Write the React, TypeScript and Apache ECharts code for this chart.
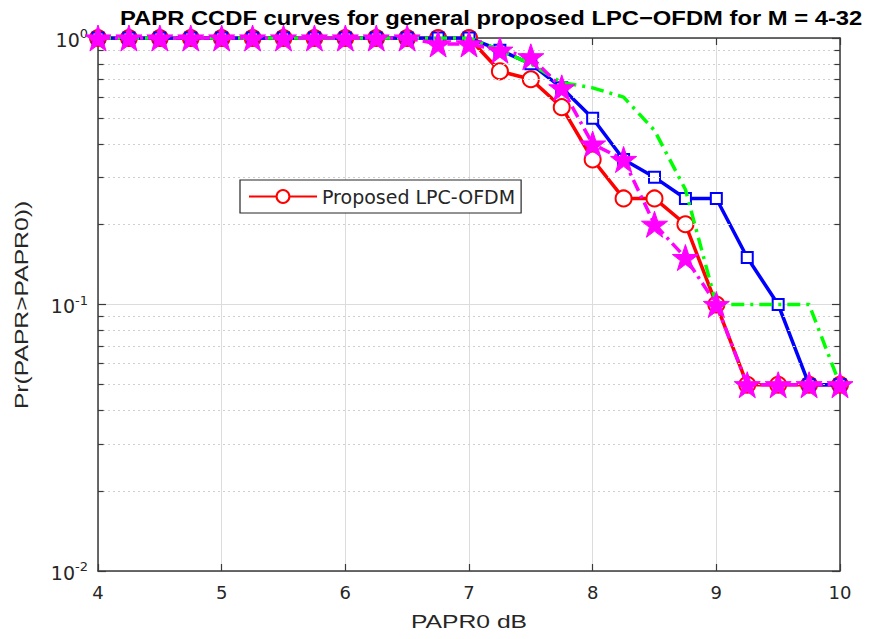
import React, { useEffect, useRef } from "react";
import * as echarts from "echarts";

// PAPR threshold values (dB) where the CCDF was evaluated
const papr0 = [4, 4.25, 4.5, 4.75, 5, 5.25, 5.5, 5.75, 6, 6.25, 6.5, 6.75, 7, 7.25, 7.5, 7.75, 8, 8.25, 8.5, 8.75, 9, 9.25, 9.5, 9.75, 10];

// Pr(PAPR > PAPR0) for each curve
const ccdfRed = [1, 1, 1, 1, 1, 1, 1, 1, 1, 1, 1, 1, 1, 0.75, 0.7, 0.55, 0.35, 0.25, 0.25, 0.2, 0.1, 0.05, 0.05, 0.05, 0.05];
const ccdfBlue = [1, 1, 1, 1, 1, 1, 1, 1, 1, 1, 1, 1, 1, 0.9, 0.8, 0.65, 0.5, 0.35, 0.3, 0.25, 0.25, 0.15, 0.1, 0.05, 0.05];
const ccdfGreen = [1, 1, 1, 1, 1, 1, 1, 1, 1, 1, 1, 1, 1, 0.9, 0.8, 0.68, 0.65, 0.6, 0.45, 0.27, 0.1, 0.1, 0.1, 0.1, 0.05];
const ccdfMagenta = [1, 1, 1, 1, 1, 1, 1, 1, 1, 1, 1, 0.95, 0.95, 0.9, 0.85, 0.65, 0.4, 0.35, 0.2, 0.15, 0.1, 0.05, 0.05, 0.05, 0.05];

// Minor (log) grid levels between the decades
const minorLevels = [0.02, 0.03, 0.04, 0.05, 0.06, 0.07, 0.08, 0.09, 0.2, 0.3, 0.4, 0.5, 0.6, 0.7, 0.8, 0.9];

const xTicks = [4, 5, 6, 7, 8, 9, 10];

const FONT = "Liberation Sans, Arial, Helvetica, sans-serif";
const WIDE = "DejaVu Sans, Liberation Sans, sans-serif";
const AXIS = "#3a3a3a";
const TXT = "#262626";

const STAR = "path://M50,2 L61.8,36.2 L97.6,36.2 L68.6,57.4 L79.6,91.6 L50,70.4 L20.4,91.6 L31.4,57.4 L2.4,36.2 L38.2,36.2 Z";

const pairs = (ys: number[]) => papr0.map((x, i) => [x, ys[i]]);

export default function App() {
  const ref = useRef<HTMLDivElement>(null);

  useEffect(() => {
    if (!ref.current) return;
    const chart = echarts.init(ref.current, null, { renderer: "svg" });

    const xMin = xTicks[0];
    const xMax = xTicks[xTicks.length - 1];
    const tickLen = 0.045;

    const minorGrid = minorLevels.map((v) => ({ yAxis: v }));
    const minorTicks: any[] = [];
    minorLevels.forEach((v) => {
      minorTicks.push([{ coord: [xMin, v] }, { coord: [xMin + tickLen, v] }]);
      minorTicks.push([{ coord: [xMax - tickLen, v] }, { coord: [xMax, v] }]);
    });

    const supLabel = (v: number) => {
      const e = Math.round(Math.log10(v));
      return `{b|10}{s|${e}}`;
    };

    const option: any = {
      animation: false,
      backgroundColor: "#ffffff",
      grid: { left: 98, right: 33, top: 38, bottom: 68, containLabel: false },
      legend: {
        data: ["Proposed LPC-OFDM"],
        left: 240,
        top: 180,
        orient: "vertical",
        backgroundColor: "#ffffff",
        borderColor: "#262626",
        borderWidth: 1.2,
        borderRadius: 0,
        padding: [7, 6, 7, 8],
        itemWidth: 68,
        itemHeight: 16,
        itemGap: 4,
        textStyle: { fontFamily: WIDE, fontSize: 19, color: TXT },
      },
      xAxis: [
        {
          type: "value",
          min: xMin,
          max: xMax,
          interval: 1,
          axisLine: { show: true, onZero: false, lineStyle: { color: AXIS, width: 1.5 } },
          axisTick: { show: true, inside: true, length: 7, lineStyle: { color: AXIS, width: 1.2 } },
          axisLabel: { fontFamily: WIDE, fontSize: 18, color: TXT, margin: 12 },
          splitLine: { show: true, lineStyle: { color: "#dcdcdc", width: 1 } },
        },
        {
          type: "value",
          position: "top",
          min: xMin,
          max: xMax,
          interval: 1,
          axisLine: { show: true, onZero: false, lineStyle: { color: AXIS, width: 1.5 } },
          axisTick: { show: true, inside: true, length: 7, lineStyle: { color: AXIS, width: 1.2 } },
          axisLabel: { show: false },
          splitLine: { show: false },
        },
      ],
      yAxis: [
        {
          type: "log",
          logBase: 10,
          min: 0.01,
          max: 1,
          axisLine: { show: true, onZero: false, lineStyle: { color: AXIS, width: 1.5 } },
          axisTick: { show: true, inside: true, length: 8, lineStyle: { color: AXIS, width: 1.2 } },
          axisLabel: {
            margin: 10,
            formatter: supLabel,
            rich: {
              b: {
                fontFamily: WIDE,
                fontSize: 19,
                color: TXT,
                verticalAlign: "bottom",
                lineHeight: 20,
                padding: [10, 0, 0, 0],
              },
              s: { fontFamily: WIDE, fontSize: 13, color: TXT, verticalAlign: "top", lineHeight: 22 },
            },
          },
          splitLine: { show: true, lineStyle: { color: "#dcdcdc", width: 1 } },
        },
        {
          type: "log",
          logBase: 10,
          min: 0.01,
          max: 1,
          position: "right",
          axisLine: { show: true, onZero: false, lineStyle: { color: AXIS, width: 1.5 } },
          axisTick: { show: true, inside: true, length: 8, lineStyle: { color: AXIS, width: 1.2 } },
          axisLabel: { show: false },
          splitLine: { show: false },
        },
      ],
      graphic: [
        {
          type: "text",
          x: 120,
          y: 18,
          scaleX: 1.19,
          style: {
            text: "PAPR CCDF curves for general proposed LPC\u2212OFDM for M = 4-32",
            fontFamily: FONT,
            fontWeight: "bold",
            fontSize: 20,
            fill: "#000000",
            textAlign: "left",
            textVerticalAlign: "middle",
          },
        },
        {
          type: "text",
          x: 469,
          y: 622,
          scaleX: 1.3,
          style: {
            text: "PAPR0 dB",
            fontFamily: FONT,
            fontSize: 19,
            fill: TXT,
            textAlign: "center",
            textVerticalAlign: "middle",
          },
        },
        {
          type: "text",
          x: 22,
          y: 305,
          rotation: Math.PI / 2,
          scaleX: 1.3,
          style: {
            text: "Pr(PAPR>PAPR0))",
            fontFamily: FONT,
            fontSize: 19,
            fill: TXT,
            textAlign: "center",
            textVerticalAlign: "middle",
          },
        },
      ],
      series: [
        {
          name: "grid",
          type: "line",
          data: [],
          silent: true,
          z: 1,
          markLine: {
            silent: true,
            symbol: "none",
            label: { show: false },
            lineStyle: { color: "#d0d0d0", type: [2, 3], width: 1 },
            data: minorGrid,
          },
        },
        {
          name: "ticks",
          type: "line",
          data: [],
          silent: true,
          z: 1,
          markLine: {
            silent: true,
            symbol: "none",
            label: { show: false },
            lineStyle: { color: AXIS, type: "solid", width: 1.2 },
            data: minorTicks,
          },
        },
        {
          name: "Proposed LPC-OFDM",
          type: "line",
          data: pairs(ccdfRed),
          symbol: "emptyCircle",
          symbolSize: 16,
          lineStyle: { width: 3.5, color: "#ff0000", type: "solid" },
          itemStyle: { color: "#ff0000", borderWidth: 3 },
          z: 3,
        },
        {
          name: "LPC-OFDM B",
          type: "line",
          data: pairs(ccdfBlue),
          symbol: "emptyRect",
          symbolSize: 11,
          lineStyle: { width: 3.5, color: "#0000ff", type: "solid" },
          itemStyle: { color: "#0000ff", borderWidth: 2.5 },
          z: 4,
        },
        {
          name: "LPC-OFDM C",
          type: "line",
          data: pairs(ccdfGreen),
          symbol: "none",
          lineStyle: { width: 3.5, color: "#00ff00", type: [13, 6, 3, 6] },
          itemStyle: { color: "#00ff00" },
          z: 5,
        },
        {
          name: "LPC-OFDM D",
          type: "line",
          data: pairs(ccdfMagenta),
          symbol: STAR,
          symbolSize: 26,
          lineStyle: { width: 3.5, color: "#ff00ff", type: [12, 5, 3, 5] },
          itemStyle: { color: "#ff00ff", borderColor: "#ff00ff", borderWidth: 1 },
          z: 6,
        },
      ],
    };

    chart.setOption(option);
    return () => chart.dispose();
  }, []);

  return (
    <div
      ref={ref}
      style={{ position: "fixed", left: 0, top: 0, width: 873, height: 639, background: "#ffffff" }}
    />
  );
}
